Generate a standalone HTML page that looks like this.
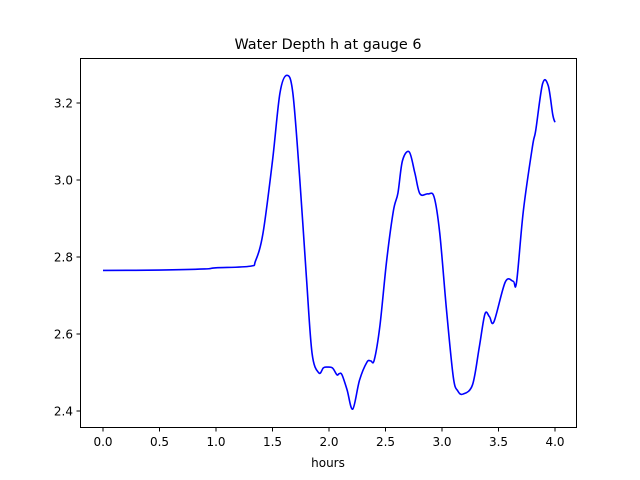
<!DOCTYPE html>
<html><head><meta charset="utf-8"><style>
body{margin:0;background:#fff}
svg{display:block;font-family:"DejaVu Sans","Liberation Sans",sans-serif}
</style></head><body>
<svg id="chart" width="640" height="480">
<rect width="640" height="480" fill="#fff"/>
<text x="328" y="49" font-size="14.4" text-anchor="middle">Water Depth h at gauge 6</text>
<g id="ticks"></g>
<path id="line" fill="none" stroke="#0000ff" stroke-width="1.6" stroke-linejoin="round"/>
<rect x="80.5" y="58.5" width="496" height="369" fill="none" stroke="#000" stroke-width="1"/>
<text x="328" y="467" font-size="12" text-anchor="middle">hours</text>
</svg>
<script>
const times=[0,0.5,0.9,1.0,1.3,1.35,1.416,1.5,1.566,1.628,1.68,1.74,1.80,1.85,1.91,1.95,1.98,2.03,2.07,2.09,2.115,2.16,2.21,2.27,2.336,2.37,2.40,2.45,2.51,2.57,2.61,2.65,2.71,2.76,2.805,2.876,2.93,2.98,3.04,3.10,3.14,3.186,3.27,3.33,3.38,3.42,3.46,3.56,3.63,3.66,3.72,3.80,3.83,3.89,3.94,3.98,4.0];
const depths=[2.765,2.766,2.769,2.772,2.776,2.79,2.862,3.05,3.226,3.272,3.226,3.008,2.748,2.55,2.499,2.512,2.514,2.512,2.494,2.497,2.494,2.455,2.405,2.48,2.527,2.53,2.532,2.62,2.79,2.92,2.966,3.05,3.073,3.018,2.964,2.964,2.956,2.862,2.662,2.488,2.452,2.444,2.468,2.566,2.652,2.645,2.632,2.735,2.737,2.735,2.92,3.086,3.13,3.25,3.245,3.17,3.15];
const xTicks=[0,0.5,1.0,1.5,2.0,2.5,3.0,3.5,4.0];
const yTicks=[2.4,2.6,2.8,3.0,3.2];
const xS=v=>103+v*113;
const yS=v=>411-(v-2.4)*385;
const NS="http://www.w3.org/2000/svg";
const g=document.getElementById('ticks');
xTicks.forEach(t=>{
  const l=document.createElementNS(NS,'line');
  l.setAttribute('x1',xS(t));l.setAttribute('x2',xS(t));l.setAttribute('y1',427.5);l.setAttribute('y2',431.5);l.setAttribute('stroke','#000');
  
  
  g.appendChild(l);
  const tx=document.createElementNS(NS,'text');
  tx.setAttribute('x',xS(t));tx.setAttribute('y',446);tx.setAttribute('font-size','12');tx.setAttribute('text-anchor','middle');
  tx.textContent=t.toFixed(1);
  
  
  g.appendChild(tx);
});
yTicks.forEach(t=>{
  const l=document.createElementNS(NS,'line');
  l.setAttribute('y1',yS(t));l.setAttribute('y2',yS(t));l.setAttribute('x1',76.5);l.setAttribute('x2',80.5);l.setAttribute('stroke','#000');
  
  
  g.appendChild(l);
  const tx=document.createElementNS(NS,'text');
  tx.setAttribute('x',73);tx.setAttribute('y',yS(t)+4.5);tx.setAttribute('font-size','12');tx.setAttribute('text-anchor','end');
  tx.textContent=t.toFixed(1);
  
  
  g.appendChild(tx);
});
// Catmull-Rom smoothing through data points
const P=times.map((t,i)=>[xS(t),yS(depths[i])]);
let d='M'+P[0][0]+','+P[0][1];
for(let i=0;i<P.length-1;i++){
  const p0=P[Math.max(0,i-1)],p1=P[i],p2=P[i+1],p3=P[Math.min(P.length-1,i+2)];
  const c1=[p1[0]+(p2[0]-p0[0])/6,p1[1]+(p2[1]-p0[1])/6];
  const c2=[p2[0]-(p3[0]-p1[0])/6,p2[1]-(p3[1]-p1[1])/6];
  d+=` C${c1[0]},${c1[1]} ${c2[0]},${c2[1]} ${p2[0]},${p2[1]}`;
}
document.getElementById('line').setAttribute('d',d);
</script>
</body></html>
